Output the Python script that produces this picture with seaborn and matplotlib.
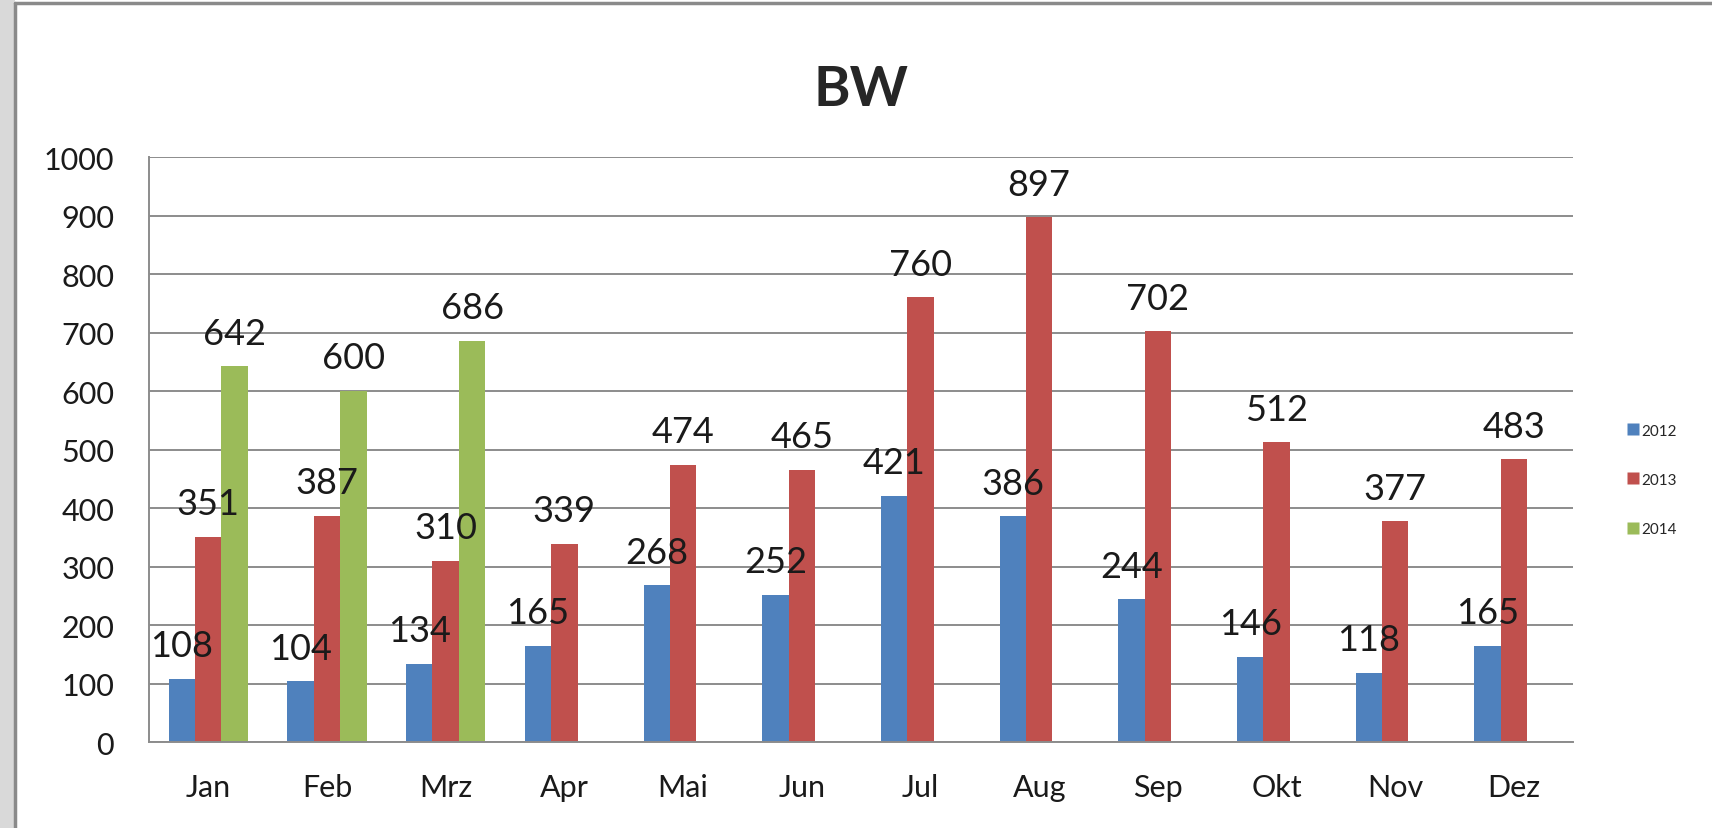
import matplotlib
matplotlib.use('Agg')
import matplotlib.pyplot as plt
import numpy as np
import pandas as pd
import seaborn as sns
from matplotlib.patches import Rectangle
from matplotlib.lines import Line2D

# data
monate = ['Jan', 'Feb', 'Mrz', 'Apr', 'Mai', 'Jun', 'Jul', 'Aug', 'Sep', 'Okt', 'Nov', 'Dez']
werte_2012 = [108, 104, 134, 165, 268, 252, 421, 386, 244, 146, 118, 165]
werte_2013 = [351, 387, 310, 339, 474, 465, 760, 897, 702, 512, 377, 483]
werte_2014 = [642, 600, 686, np.nan, np.nan, np.nan, np.nan, np.nan, np.nan, np.nan, np.nan, np.nan]
jahre = ['2012', '2013', '2014']
farben = ['#4F81BD', '#C0504D', '#9BBB59']

df = pd.DataFrame({
    'Monat': monate * 3,
    'Jahr': [jahre[0]] * 12 + [jahre[1]] * 12 + [jahre[2]] * 12,
    'Wert': werte_2012 + werte_2013 + werte_2014,
})

sns.set_style('white')
plt.rcParams['font.family'] = ['Lato', 'DejaVu Sans']

fig = plt.figure(figsize=(17.12, 8.29), dpi=100)
ax = fig.add_axes([0.087, 0.1037, 0.832, 0.7057])

sns.barplot(data=df, x='Monat', y='Wert', hue='Jahr', hue_order=jahre,
            order=monate, palette=farben, width=0.667, saturation=1,
            edgecolor='none', linewidth=0, ax=ax, legend=False)

# Datenbeschriftungen
for cont in ax.containers:
    ax.bar_label(cont, fmt='{:.0f}', padding=12, fontsize=26, color='#1a1a1a')

ax.set_ylim(0, 1000)
ax.set_yticks(np.arange(0, 1001, 100))
ax.set_xlim(-0.5, 11.5)
ax.yaxis.grid(True, color='#8c8c8c', linewidth=1.4)
ax.set_axisbelow(True)
ax.set_xlabel('')
ax.set_ylabel('')
ax.tick_params(axis='y', labelsize=22, length=0, pad=25, colors='#1a1a1a')
ax.tick_params(axis='x', labelsize=22, length=0, pad=22, colors='#1a1a1a')
for s in ['top', 'right']:
    ax.spines[s].set_visible(False)
for s in ['left', 'bottom']:
    ax.spines[s].set_color('#8c8c8c')
    ax.spines[s].set_linewidth(1.4)

# Titel
fig.text(0.503, 0.891, 'BW', ha='center', va='center', fontsize=40, fontweight='bold')

# Legende
handles = [Line2D([], [], marker='s', linestyle='none', markersize=8,
                  markerfacecolor=c, markeredgecolor='none') for c in farben]
fig.legend(handles, jahre, loc='center left', bbox_to_anchor=(0.947, 0.42),
           frameon=False, fontsize=11, labelspacing=2.3, handletextpad=0.1,
           handlelength=0.8, borderaxespad=0)

# Rahmen des Screenshots (links grau, Linie links und oben)
fig.patches.append(Rectangle((0, 0), 15 / 1712, 1, transform=fig.transFigure,
                             facecolor='#d9d9d9', edgecolor='none', zorder=0))
fig.lines.append(Line2D([15.5 / 1712, 15.5 / 1712], [0, 1 - 4 / 829], transform=fig.transFigure,
                        color='#8a8a8a', linewidth=2.5))
fig.lines.append(Line2D([15.5 / 1712, 1], [1 - 4 / 829, 1 - 4 / 829], transform=fig.transFigure,
                        color='#8a8a8a', linewidth=2.5))

fig.savefig('out.png', dpi=100)
